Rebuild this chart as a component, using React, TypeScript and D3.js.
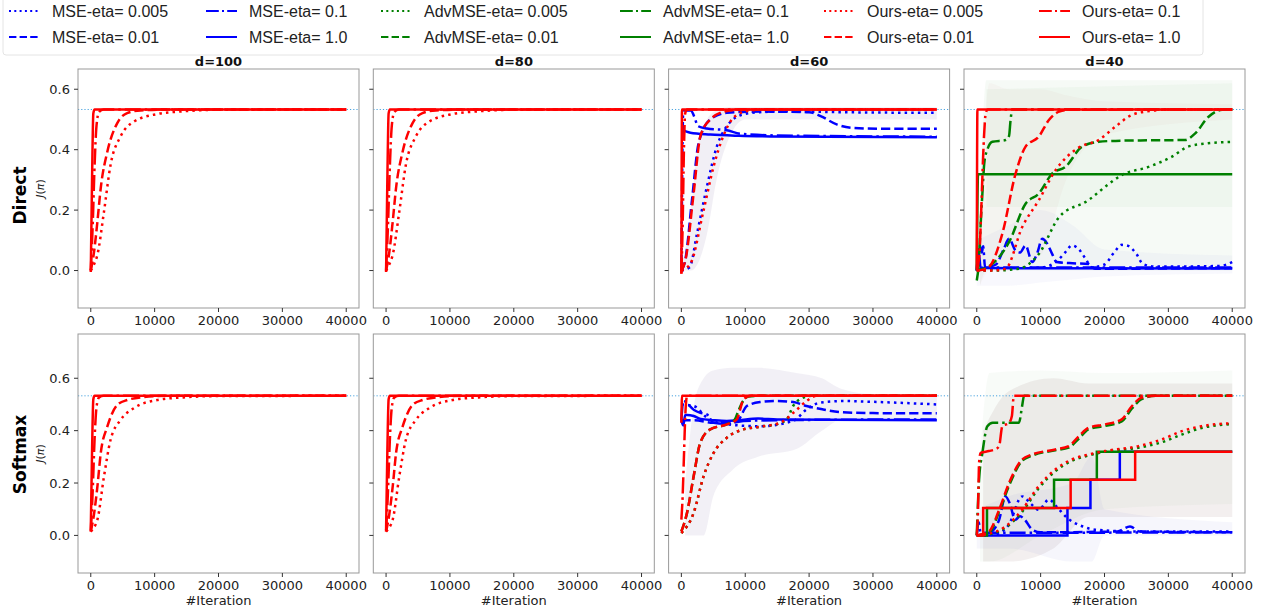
import React from "react";
import * as d3 from "d3";

type Pt = [number, number];
type Band = [number, number, number];

const METHODS = ["MSE", "AdvMSE", "Ours"];
const ETAS = ["0.005", "0.01", "0.1", "1.0"];
const COLORS: Record<string, string> = { MSE: "#0000ff", AdvMSE: "#008000", Ours: "#ff0000" };
const DIMS = ["d=100", "d=80", "d=60", "d=40"];
const ROWS = ["Direct", "Softmax"];
const X_TICKS = [0, 10000, 20000, 30000, 40000];
const Y_TICKS = [0.0, 0.2, 0.4, 0.6];
const OPTIMUM = 0.533;

// ---- d=100 / d=80, Direct ----
const FAST_D_OURS_0005: Pt[] = [[0, 0], [500, 0.02], [1040, 0.052], [2070, 0.195], [3100, 0.35], [4670, 0.444], [6750, 0.493], [10400, 0.518], [14500, 0.527], [20000, 0.532], [40000, 0.533]];
const FAST_D_OURS_001: Pt[] = [[0, 0], [500, 0.06], [1040, 0.162], [1560, 0.273], [2600, 0.394], [4150, 0.488], [5700, 0.521], [7800, 0.53], [12000, 0.533], [40000, 0.533]];
const FAST_D_OURS_01: Pt[] = [[0, 0], [300, 0.15], [600, 0.35], [900, 0.48], [1300, 0.525], [2000, 0.533], [40000, 0.533]];
const FAST_D_OURS_10: Pt[] = [[0, -0.005], [200, 0.3], [400, 0.52], [600, 0.533], [40000, 0.533]];

// ---- d=100 / d=80, Softmax ----
const FAST_S_OURS_0005: Pt[] = [[0, 0.015], [500, 0.03], [1040, 0.06], [2070, 0.225], [3100, 0.365], [4670, 0.441], [6750, 0.486], [10400, 0.517], [14500, 0.527], [20000, 0.532], [40000, 0.533]];
const FAST_S_OURS_001: Pt[] = [[0, 0.015], [500, 0.08], [1040, 0.187], [1560, 0.314], [2600, 0.416], [4150, 0.498], [5700, 0.517], [8300, 0.528], [12000, 0.533], [40000, 0.533]];
const FAST_S_OURS_01: Pt[] = [[0, 0.015], [300, 0.17], [600, 0.37], [900, 0.49], [1300, 0.527], [2000, 0.533], [40000, 0.533]];
const FAST_S_OURS_10: Pt[] = [[0, 0.02], [200, 0.32], [400, 0.52], [600, 0.533], [40000, 0.533]];

// ---- d=60, Direct ----
const D60_MSE_0005: Pt[] = [[0, 0], [1300, 0.011], [2445, 0.122], [4000, 0.278], [5560, 0.411], [7125, 0.478], [9720, 0.517], [12300, 0.524], [17000, 0.527], [25000, 0.524], [40000, 0.522]];
const D60_MSE_001: Pt[] = [[0, 0], [600, 0.033], [1660, 0.233], [2700, 0.422], [4525, 0.5], [7125, 0.522], [12300, 0.526], [20000, 0.524], [21800, 0.511], [24400, 0.483], [26900, 0.472], [32000, 0.469], [40000, 0.469]];
const D60_MSE_01: Pt[] = [[0, 0], [300, 0.53], [1500, 0.53], [2000, 0.51], [2600, 0.478], [4000, 0.47], [7125, 0.464], [9200, 0.453], [15000, 0.447], [40000, 0.443]];
const D60_MSE_10: Pt[] = [[0, 0.467], [1400, 0.456], [4500, 0.45], [9000, 0.446], [14000, 0.444], [40000, 0.441]];
const D60_OURS_0005: Pt[] = [[0, 0], [1400, 0.022], [3485, 0.2], [5045, 0.344], [6345, 0.433], [8170, 0.506], [10250, 0.528], [13000, 0.533], [40000, 0.533]];
const D60_OURS_001: Pt[] = [[0, 0], [624, 0.033], [1925, 0.256], [2965, 0.444], [4525, 0.5], [7125, 0.528], [9700, 0.533], [40000, 0.533]];
const D60_OURS_01: Pt[] = [[0, -0.01], [200, 0.15], [400, 0.4], [600, 0.52], [900, 0.533], [40000, 0.533]];
const D60_OURS_10: Pt[] = [[0, -0.011], [100, 0.533], [40000, 0.533]];
const D60_BAND: Band[] = [[300, 0, 0.03], [1500, 0.0, 0.2], [2500, 0.02, 0.4], [4000, 0.12, 0.5], [5500, 0.3, 0.53], [7500, 0.44, 0.54], [10000, 0.5, 0.54], [40000, 0.5, 0.54]];

// ---- d=40, Direct ----
const D40_MSE_0005: Pt[] = [[0, 0], [5000, 0.008], [10000, 0.01], [12500, 0.03], [13880, 0.061], [14900, 0.083], [16000, 0.07], [17000, 0.04], [18000, 0.011], [20000, 0.02], [21500, 0.06], [22700, 0.085], [23500, 0.083], [25000, 0.055], [26000, 0.022], [28000, 0.013], [38000, 0.015], [40000, 0.028]];
const D40_MSE_001: Pt[] = [[0, 0], [1500, 0.01], [3000, 0.02], [4200, 0.07], [5050, 0.105], [6080, 0.066], [6800, 0.06], [7640, 0.083], [8680, 0.028], [9500, 0.06], [10250, 0.105], [11000, 0.09], [11800, 0.055], [12500, 0.028], [15000, 0.024], [17500, 0.022], [18500, 0.006], [40000, 0.008]];
const D40_MSE_01: Pt[] = [[0, 0], [400, 0.085], [800, 0.06], [1000, 0.08], [1300, 0.01], [40000, 0.01]];
const D40_MSE_10: Pt[] = [[0, 0], [300, 0.06], [600, 0.01], [1500, 0.008], [40000, 0.007]];
const D40_ADV_0005: Pt[] = [[0, 0], [3000, 0.0], [6600, 0.006], [9720, 0.055], [12900, 0.177], [17500, 0.233], [20100, 0.277], [22700, 0.316], [26900, 0.343], [30500, 0.376], [33100, 0.41], [36200, 0.421], [40000, 0.426]];
const D40_ADV_001: Pt[] = [[0, 0], [1000, 0.005], [2440, 0.022], [5050, 0.094], [7640, 0.221], [9720, 0.255], [11800, 0.321], [13880, 0.343], [16480, 0.41], [19080, 0.426], [22700, 0.43], [32600, 0.432], [34200, 0.454], [36300, 0.509], [38400, 0.532], [40000, 0.533]];
const D40_ADV_01: Pt[] = [[0, -0.033], [300, 0.02], [600, 0.15], [880, 0.255], [1200, 0.36], [1660, 0.4], [2440, 0.426], [4520, 0.432], [5050, 0.445], [5300, 0.5], [5560, 0.533], [40000, 0.533]];
const D40_ADV_10: Pt[] = [[0, 0], [200, 0.319], [40000, 0.319]];
const D40_OURS_0005: Pt[] = [[0, 0], [2500, 0.0], [4520, 0.006], [7120, 0.144], [9720, 0.233], [12330, 0.332], [15960, 0.407], [19080, 0.432], [21700, 0.476], [24300, 0.515], [27900, 0.53], [30000, 0.533], [40000, 0.533]];
const D40_OURS_001: Pt[] = [[0, 0], [1000, 0.003], [1900, 0.011], [4000, 0.122], [6080, 0.321], [7640, 0.41], [9700, 0.443], [11290, 0.498], [12900, 0.526], [14500, 0.532], [40000, 0.533]];
const D40_OURS_01: Pt[] = [[0, 0], [400, 0.05], [700, 0.2], [1000, 0.38], [1150, 0.45], [1400, 0.52], [1700, 0.533], [40000, 0.533]];
const D40_OURS_10: Pt[] = [[0, 0.005], [100, 0.533], [40000, 0.533]];
const D40_BAND_ADV_A: Band[] = [[500, -0.05, 0.25], [1500, 0.0, 0.63], [40000, 0.0, 0.63]];
const D40_BAND_ADV_B: Band[] = [[1500, 0.21, 0.6], [40000, 0.21, 0.62]];
const D40_BAND_OURS: Band[] = [[500, -0.05, 0.2], [2000, 0.0, 0.62], [5000, 0.0, 0.6], [10000, 0.05, 0.6], [14000, 0.3, 0.58], [20000, 0.45, 0.56], [40000, 0.5, 0.55]];
const D40_BAND_MSE: Band[] = [[0, -0.05, 0.1], [5000, -0.05, 0.15], [10000, -0.04, 0.2], [15000, -0.03, 0.15], [20000, -0.02, 0.07], [40000, -0.01, 0.05]];

// ---- d=60, Softmax ----
const S60_MSE_0005: Pt[] = [[0, 0.5], [1925, 0.494], [4000, 0.45], [7125, 0.424], [12330, 0.417], [17530, 0.437], [19600, 0.481], [21700, 0.507], [25300, 0.513], [30000, 0.51], [40000, 0.5]];
const S60_MSE_001: Pt[] = [[0, 0.44], [2000, 0.44], [5000, 0.43], [8000, 0.43], [9000, 0.443], [10250, 0.494], [12330, 0.509], [14900, 0.513], [17530, 0.509], [19600, 0.494], [22200, 0.481], [24800, 0.471], [30000, 0.467], [40000, 0.466]];
const S60_MSE_01: Pt[] = [[0, 0.44], [300, 0.513], [1925, 0.48], [2965, 0.468], [4000, 0.462], [5045, 0.43], [7125, 0.426], [9720, 0.437], [15000, 0.44], [40000, 0.443]];
const S60_MSE_10: Pt[] = [[0, 0.44], [300, 0.42], [600, 0.46], [900, 0.46], [1925, 0.456], [3000, 0.445], [5000, 0.44], [7125, 0.437], [9000, 0.44], [12000, 0.446], [15000, 0.443], [40000, 0.44]];
const S60_ADV_0005: Pt[] = [[0, 0.009], [1925, 0.086], [3485, 0.226], [5045, 0.315], [7125, 0.373], [9720, 0.405], [12330, 0.415], [15000, 0.425], [16500, 0.443], [17500, 0.494], [19100, 0.526], [20500, 0.533], [40000, 0.533]];
const S60_ADV_001: Pt[] = [[0, 0.015], [885, 0.086], [1925, 0.226], [2965, 0.354], [4525, 0.405], [7125, 0.424], [8300, 0.44], [9000, 0.48], [9720, 0.515], [10500, 0.53], [12000, 0.533], [40000, 0.533]];
const S60_OURS_0005: Pt[] = [[0, 0.009], [1925, 0.086], [3485, 0.226], [5045, 0.315], [7125, 0.373], [9720, 0.405], [12330, 0.415], [15450, 0.43], [17530, 0.468], [19600, 0.513], [21170, 0.533], [40000, 0.533]];
const S60_OURS_001: Pt[] = [[0, 0.015], [885, 0.086], [1925, 0.226], [2965, 0.354], [4525, 0.405], [7125, 0.424], [8680, 0.443], [9200, 0.48], [9720, 0.52], [11000, 0.533], [40000, 0.533]];
const S60_OURS_01: Pt[] = [[0, 0.06], [200, 0.15], [400, 0.3], [600, 0.45], [900, 0.533], [40000, 0.533]];
const S60_OURS_10: Pt[] = [[0, 0.43], [100, 0.533], [40000, 0.533]];
const S60_BAND: Band[] = [[600, 0.0, 0.2], [2000, 0.0, 0.5], [3500, 0.0, 0.6], [5000, 0.15, 0.63], [8000, 0.25, 0.64], [12000, 0.3, 0.64], [18000, 0.33, 0.62], [22000, 0.4, 0.6], [25000, 0.44, 0.56], [30000, 0.44, 0.54], [40000, 0.44, 0.54]];

// ---- d=40, Softmax ----
const S40_MSE_0005: Pt[] = [[0, 0], [3000, 0.005], [5000, 0.04], [7100, 0.149], [8500, 0.12], [9700, 0.098], [11300, 0.137], [12500, 0.11], [14000, 0.07], [16600, 0.034], [18500, 0.022], [25000, 0.015], [40000, 0.015]];
const S40_MSE_001: Pt[] = [[0, 0], [2000, 0.01], [3500, 0.06], [4500, 0.149], [5200, 0.12], [6000, 0.06], [6800, 0.073], [7500, 0.06], [8700, 0.022], [10000, 0.012], [22000, 0.015], [24000, 0.034], [25500, 0.015], [40000, 0.012]];
const S40_MSE_01: Pt[] = [[0, 0], [300, 0.05], [600, 0.01], [40000, 0.012]];
const S40_MSE_10: Pt[] = [[0, 0], [14200, 0.105], [17800, 0.213], [22400, 0.319], [40000, 0.319]];
const S40_ADV_0005: Pt[] = [[0, 0], [1900, 0.004], [4500, 0.03], [7100, 0.09], [9700, 0.18], [12300, 0.245], [14900, 0.285], [17500, 0.305], [20100, 0.32], [25300, 0.335], [28900, 0.355], [32100, 0.385], [35200, 0.41], [40000, 0.425]];
const S40_ADV_001: Pt[] = [[0, 0], [1900, 0.01], [3500, 0.09], [5050, 0.19], [7100, 0.285], [8700, 0.305], [12300, 0.325], [14400, 0.335], [16000, 0.37], [17500, 0.405], [20100, 0.418], [22700, 0.435], [24300, 0.485], [25800, 0.52], [28000, 0.533], [40000, 0.533]];
const S40_ADV_01: Pt[] = [[0, 0], [360, 0.213], [880, 0.315], [1660, 0.417], [2500, 0.43], [6600, 0.43], [7100, 0.494], [7400, 0.533], [40000, 0.533]];
const S40_ADV_10: Pt[] = [[0, 0], [1600, 0.105], [12100, 0.213], [18800, 0.319], [40000, 0.319]];
const S40_OURS_0005: Pt[] = [[0, 0], [1900, 0.006], [4500, 0.034], [7100, 0.098], [9700, 0.188], [12300, 0.252], [14900, 0.29], [17500, 0.309], [20100, 0.322], [25300, 0.341], [28900, 0.366], [32100, 0.398], [35200, 0.417], [40000, 0.428]];
const S40_OURS_001: Pt[] = [[0, 0], [1900, 0.015], [3500, 0.098], [5050, 0.2], [7100, 0.29], [8700, 0.309], [12300, 0.328], [14400, 0.341], [16000, 0.379], [17500, 0.411], [20100, 0.424], [22700, 0.443], [24300, 0.494], [25800, 0.526], [28000, 0.533], [40000, 0.533]];
const S40_OURS_01: Pt[] = [[0, 0], [200, 0.1], [360, 0.277], [600, 0.315], [1900, 0.322], [3000, 0.33], [3500, 0.341], [4000, 0.417], [5050, 0.43], [5500, 0.456], [5800, 0.533], [40000, 0.533]];
const S40_OURS_10: Pt[] = [[0, 0], [1000, 0.105], [14700, 0.213], [24800, 0.319], [40000, 0.319]];
const S40_BAND_OURS: Band[] = [[1000, -0.1, 0.4], [5000, -0.1, 0.55], [12000, -0.05, 0.6], [17500, 0.07, 0.58], [40000, 0.07, 0.58]];
const S40_BAND_ADV: Band[] = [[500, -0.1, 0.3], [2000, -0.1, 0.62], [10000, 0.0, 0.63], [20000, 0.1, 0.62], [40000, 0.12, 0.63]];
const S40_BAND_MSE: Band[] = [[0, -0.05, 0.1], [5000, -0.05, 0.15], [15000, -0.1, 0.2], [18000, -0.1, 0.3], [20000, 0.0, 0.1], [40000, 0.0, 0.05]];

type Line = { method: string; eta: string; data: Pt[]; step?: boolean };
type Shade = { color: string; opacity: number; data: Band[] };
type Panel = { lines: Line[]; bands: Shade[] };

const fastDirect: Panel = {
  bands: [],
  lines: [
    { method: "Ours", eta: "0.005", data: FAST_D_OURS_0005 },
    { method: "Ours", eta: "0.01", data: FAST_D_OURS_001 },
    { method: "Ours", eta: "0.1", data: FAST_D_OURS_01 },
    { method: "Ours", eta: "1.0", data: FAST_D_OURS_10 },
  ],
};
const fastSoftmax: Panel = {
  bands: [],
  lines: [
    { method: "Ours", eta: "0.005", data: FAST_S_OURS_0005 },
    { method: "Ours", eta: "0.01", data: FAST_S_OURS_001 },
    { method: "Ours", eta: "0.1", data: FAST_S_OURS_01 },
    { method: "Ours", eta: "1.0", data: FAST_S_OURS_10 },
  ],
};

const PANELS: Panel[][] = [
  [
    fastDirect,
    fastDirect,
    {
      bands: [{ color: "#8a7ab0", opacity: 0.12, data: D60_BAND }],
      lines: [
        { method: "MSE", eta: "0.005", data: D60_MSE_0005 },
        { method: "MSE", eta: "0.01", data: D60_MSE_001 },
        { method: "MSE", eta: "0.1", data: D60_MSE_01 },
        { method: "MSE", eta: "1.0", data: D60_MSE_10 },
        { method: "Ours", eta: "0.005", data: D60_OURS_0005 },
        { method: "Ours", eta: "0.01", data: D60_OURS_001 },
        { method: "Ours", eta: "0.1", data: D60_OURS_01 },
        { method: "Ours", eta: "1.0", data: D60_OURS_10 },
      ],
    },
    {
      bands: [
        { color: "#7fbf7f", opacity: 0.07, data: D40_BAND_ADV_A },
        { color: "#7fbf7f", opacity: 0.06, data: D40_BAND_ADV_B },
        { color: "#e09090", opacity: 0.05, data: D40_BAND_OURS },
        { color: "#8080e0", opacity: 0.06, data: D40_BAND_MSE },
      ],
      lines: [
        { method: "MSE", eta: "0.005", data: D40_MSE_0005 },
        { method: "MSE", eta: "0.01", data: D40_MSE_001 },
        { method: "MSE", eta: "0.1", data: D40_MSE_01 },
        { method: "MSE", eta: "1.0", data: D40_MSE_10 },
        { method: "AdvMSE", eta: "0.005", data: D40_ADV_0005 },
        { method: "AdvMSE", eta: "0.01", data: D40_ADV_001 },
        { method: "AdvMSE", eta: "0.1", data: D40_ADV_01 },
        { method: "AdvMSE", eta: "1.0", data: D40_ADV_10 },
        { method: "Ours", eta: "0.005", data: D40_OURS_0005 },
        { method: "Ours", eta: "0.01", data: D40_OURS_001 },
        { method: "Ours", eta: "0.1", data: D40_OURS_01 },
        { method: "Ours", eta: "1.0", data: D40_OURS_10 },
      ],
    },
  ],
  [
    fastSoftmax,
    fastSoftmax,
    {
      bands: [{ color: "#9a8ab8", opacity: 0.13, data: S60_BAND }],
      lines: [
        { method: "MSE", eta: "0.005", data: S60_MSE_0005 },
        { method: "MSE", eta: "0.01", data: S60_MSE_001 },
        { method: "MSE", eta: "0.1", data: S60_MSE_01 },
        { method: "MSE", eta: "1.0", data: S60_MSE_10 },
        { method: "AdvMSE", eta: "0.005", data: S60_ADV_0005 },
        { method: "AdvMSE", eta: "0.01", data: S60_ADV_001 },
        { method: "Ours", eta: "0.005", data: S60_OURS_0005 },
        { method: "Ours", eta: "0.01", data: S60_OURS_001 },
        { method: "Ours", eta: "0.1", data: S60_OURS_01 },
        { method: "Ours", eta: "1.0", data: S60_OURS_10 },
      ],
    },
    {
      bands: [
        { color: "#a0c0a0", opacity: 0.07, data: S40_BAND_ADV },
        { color: "#a07878", opacity: 0.12, data: S40_BAND_OURS },
        { color: "#8080d0", opacity: 0.07, data: S40_BAND_MSE },
      ],
      lines: [
        { method: "MSE", eta: "0.005", data: S40_MSE_0005 },
        { method: "MSE", eta: "0.01", data: S40_MSE_001 },
        { method: "MSE", eta: "0.1", data: S40_MSE_01 },
        { method: "MSE", eta: "1.0", data: S40_MSE_10, step: true },
        { method: "AdvMSE", eta: "0.005", data: S40_ADV_0005 },
        { method: "AdvMSE", eta: "0.01", data: S40_ADV_001 },
        { method: "AdvMSE", eta: "0.1", data: S40_ADV_01 },
        { method: "AdvMSE", eta: "1.0", data: S40_ADV_10, step: true },
        { method: "Ours", eta: "0.005", data: S40_OURS_0005 },
        { method: "Ours", eta: "0.01", data: S40_OURS_001 },
        { method: "Ours", eta: "0.1", data: S40_OURS_01 },
        { method: "Ours", eta: "1.0", data: S40_OURS_10, step: true },
      ],
    },
  ],
];

// ---- layout ----
const W = 1265;
const H = 613;
const PANEL_LEFTS = [78, 373.3, 668.6, 964];
const PANEL_W = 281;
const ROW_TOPS = [69, 334];
const PANEL_H = 239;
const X_DOMAIN: [number, number] = [-2000, 42000];
const Y_DOMAINS: [number, number][] = [[-0.124, 0.667], [-0.1435, 0.769]];
const LW = 2.5;
const DASH: Record<string, string | undefined> = {
  "0.005": `${LW},${LW * 1.65}`,
  "0.01": `${LW * 3.7},${LW * 1.6}`,
  "0.1": `${LW * 6.4},${LW * 1.6},${LW},${LW * 1.6}`,
  "1.0": undefined,
};
const LEG_DASH: Record<string, string | undefined> = {
  "0.005": "2,3.3",
  "0.01": "7.4,3.2",
  "0.1": "12.8,3.2,2,3.2",
  "1.0": undefined,
};
const LEG_COLS = [9, 206, 381, 620, 824, 1039];
const LEG_ROWS = [11, 37];
const TICK_FONT = "DejaVu Sans, sans-serif";
const LEG_FONT = "Liberation Sans, Arial, sans-serif";

export default function App() {
  const legendItems: { method: string; eta: string }[] = [];
  METHODS.forEach((m) => ETAS.forEach((e) => legendItems.push({ method: m, eta: e })));

  return (
    <svg width={W} height={H} style={{ position: "absolute", left: 0, top: 0, background: "#fff" }} xmlns="http://www.w3.org/2000/svg">
      <defs>
        {ROW_TOPS.map((top, r) =>
          PANEL_LEFTS.map((left, c) => (
            <clipPath id={`clip-${r}-${c}`} key={`cp-${r}-${c}`}>
              <rect x={left} y={top} width={PANEL_W} height={PANEL_H} />
            </clipPath>
          ))
        )}
      </defs>
      <rect x={0} y={0} width={W} height={H} fill="#fff" />

      {/* legend */}
      <rect x={3} y={-3} width={1200} height={58} rx={3} fill="#fff" stroke="#e4e4e4" strokeWidth={1} />
      {legendItems.map((it, i) => {
        const col = Math.floor(i / 2);
        const row = i % 2;
        const x0 = LEG_COLS[col];
        const y0 = LEG_ROWS[row];
        return (
          <g key={`leg-${i}`}>
            <line x1={x0} x2={x0 + 31} y1={y0} y2={y0} stroke={COLORS[it.method]} strokeWidth={2} strokeDasharray={LEG_DASH[it.eta]} />
            <text x={x0 + 43} y={y0 + 6} fontFamily={LEG_FONT} fontSize={16} fill="#222">
              {`${it.method}-eta= ${it.eta}`}
            </text>
          </g>
        );
      })}

      {ROW_TOPS.map((top, r) => {
        const y = d3.scaleLinear().domain(Y_DOMAINS[r]).range([top + PANEL_H, top]);
        return PANEL_LEFTS.map((left, c) => {
          const x = d3.scaleLinear().domain(X_DOMAIN).range([left, left + PANEL_W]);
          const panel = PANELS[r][c];
          const lineSmooth = d3.line<Pt>().x((d) => x(d[0])).y((d) => y(d[1])).curve(d3.curveMonotoneX);
          const lineStep = d3.line<Pt>().x((d) => x(d[0])).y((d) => y(d[1])).curve(d3.curveStepAfter);
          const area = d3
            .area<Band>()
            .x((d) => x(d[0]))
            .y0((d) => y(d[1]))
            .y1((d) => y(d[2]))
            .curve(d3.curveMonotoneX);
          const bottom = top + PANEL_H;
          return (
            <g key={`p-${r}-${c}`}>
              <g clipPath={`url(#clip-${r}-${c})`}>
                {panel.bands.map((b, i) => (
                  <path key={`b-${i}`} d={area(b.data) || ""} fill={b.color} fillOpacity={b.opacity} stroke="none" />
                ))}
                <line x1={left} x2={left + PANEL_W} y1={y(OPTIMUM)} y2={y(OPTIMUM)} stroke="#4aa3df" strokeWidth={1} strokeDasharray="1.2,2" />
                {panel.lines.map((l, i) => (
                  <path
                    key={`l-${i}`}
                    d={(l.step ? lineStep : lineSmooth)(l.data) || ""}
                    fill="none"
                    stroke={COLORS[l.method]}
                    strokeWidth={LW}
                    strokeDasharray={DASH[l.eta]}
                  />
                ))}
              </g>
              <rect x={left} y={top} width={PANEL_W} height={PANEL_H} fill="none" stroke="#999" strokeWidth={1} />
              {Y_TICKS.map((t) => (
                <g key={`yt-${t}`}>
                  <line x1={left - 4} x2={left} y1={y(t)} y2={y(t)} stroke="#333" strokeWidth={1} />
                  {c === 0 && (
                    <text x={left - 8} y={y(t) + 4.5} textAnchor="end" fontFamily={TICK_FONT} fontSize={13} fill="#222">
                      {d3.format(".1f")(t)}
                    </text>
                  )}
                </g>
              ))}
              {X_TICKS.map((t) => (
                <g key={`xt-${t}`}>
                  <line x1={x(t)} x2={x(t)} y1={bottom} y2={bottom + 4} stroke="#333" strokeWidth={1} />
                  <text x={x(t)} y={bottom + 17} textAnchor="middle" fontFamily={TICK_FONT} fontSize={13} fill="#222">
                    {String(t)}
                  </text>
                </g>
              ))}
              {r === 0 && (
                <text x={left + PANEL_W / 2} y={top - 3} textAnchor="middle" fontFamily={TICK_FONT} fontSize={13} fontWeight="bold" fill="#111">
                  {DIMS[c]}
                </text>
              )}
              {r === 1 && (
                <text x={left + PANEL_W / 2} y={bottom + 32} textAnchor="middle" fontFamily={TICK_FONT} fontSize={13} fill="#222">
                  #Iteration
                </text>
              )}
            </g>
          );
        });
      })}

      {ROWS.map((name, r) => {
        const cy = ROW_TOPS[r] + PANEL_H / 2;
        const nameY = r === 0 ? cy + 7 : cy + 1;
        return (
          <g key={`row-${r}`}>
            <text transform={`translate(26,${nameY}) rotate(-90)`} textAnchor="middle" fontFamily={TICK_FONT} fontSize={17} fontWeight="bold" fill="#000">
              {name}
            </text>
            <text transform={`translate(44,${cy}) rotate(-90)`} textAnchor="middle" fontFamily={TICK_FONT} fontSize={11} fill="#222">
              <tspan fontStyle="italic">J</tspan>
              <tspan>(</tspan>
              <tspan fontStyle="italic">π</tspan>
              <tspan>)</tspan>
            </text>
          </g>
        );
      })}
    </svg>
  );
}
